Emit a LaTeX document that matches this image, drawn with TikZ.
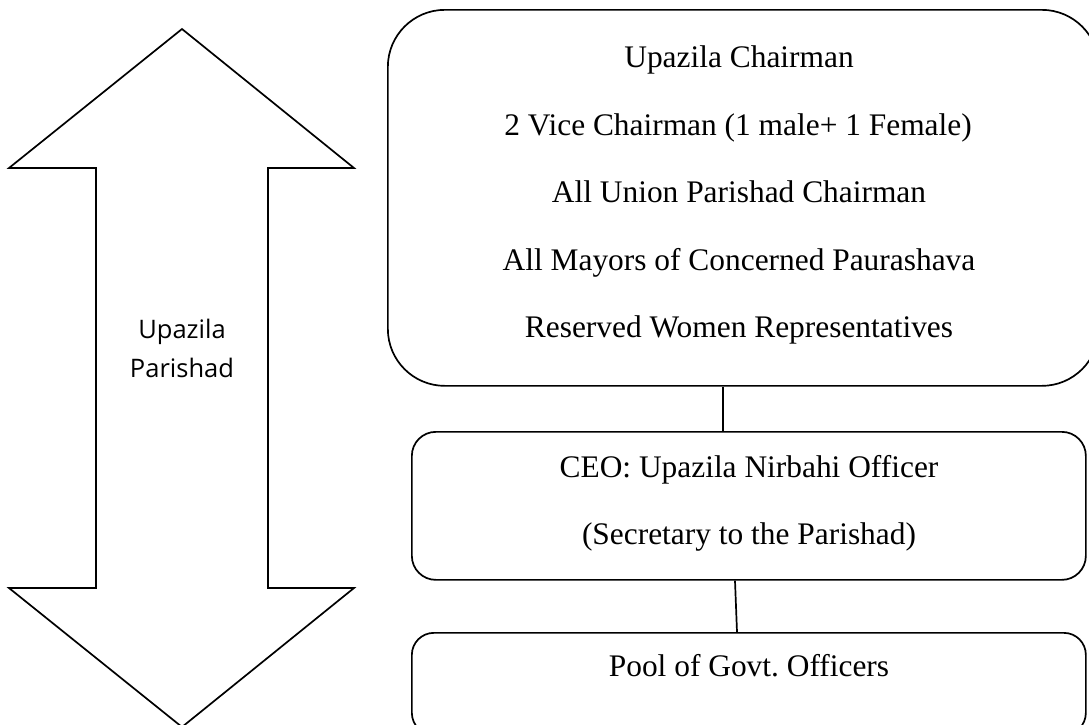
\documentclass[tikz,border=0pt]{standalone}
\usepackage{fontspec}
\setmainfont{Liberation Serif}
\newfontfamily\labfont{Open Sans}
\usetikzlibrary{calc}
\frenchspacing
\tikzset{
  ln/.style={line width=1.7pt, black},
  rbox/.style={draw, line width=1.7pt, anchor=north west, inner sep=0pt},
  txt/.style={anchor=base, inner sep=0pt, font=\frenchspacing\fontsize{31.4}{38}\selectfont},
  lab/.style={anchor=base, inner sep=0pt, font=\labfont\fontsize{25.5}{30}\selectfont},
}
\begin{document}
\begin{tikzpicture}[x=1pt,y=-1pt]
\useasboundingbox (0,0) rectangle (1089,724);
\clip (0,0) rectangle (1089,724);
% double arrow
\draw[ln, line join=miter] (182,29) -- (354,168) -- (268,168) -- (268,588) -- (354,588) -- (182,727)
  -- (9,588) -- (96,588) -- (96,168) -- (9,168) -- cycle;
\node[lab] (l1) at (182,338) {Upazila};
\node[lab] (l2) at (182,377) {Parishad};
% boxes
\node[rbox, rounded corners=57pt, minimum width=711pt, minimum height=376pt] (big) at (387,9) {};
\node[rbox, rounded corners=24pt, minimum width=674pt, minimum height=148pt] (ceo) at (411,431) {};
\node[rbox, rounded corners=22pt, minimum width=674pt, minimum height=102pt] (pool) at (411,632) {};
% texts
\node[txt] (t1) at (739,67) {Upazila Chairman};
\node[txt] (t2) at (738,135) {2 Vice Chairman (1 male+ 1 Female)};
\node[txt] (t3) at (739,202) {All Union Parishad Chairman};
\node[txt] (t4) at (739,270) {All Mayors of Concerned Paurashava};
\node[txt] (t5) at (739,337) {Reserved Women Representatives};
\node[txt] (c1) at (749,477) {CEO:\ Upazila Nirbahi Officer};
\node[txt] (c2) at (749,544) {(Secretary to the Parishad)};
\node[txt] (p1) at (749,676) {Pool of Govt.\ Officers};
% connectors
\draw[ln] ($(big.south west)+(336,0)$) -- ($(ceo.north west)+(312,0)$);
\draw[ln] ($(ceo.south west)+(324,0)$) -- ($(pool.north west)+(326,0)$);
\end{tikzpicture}
\end{document}
